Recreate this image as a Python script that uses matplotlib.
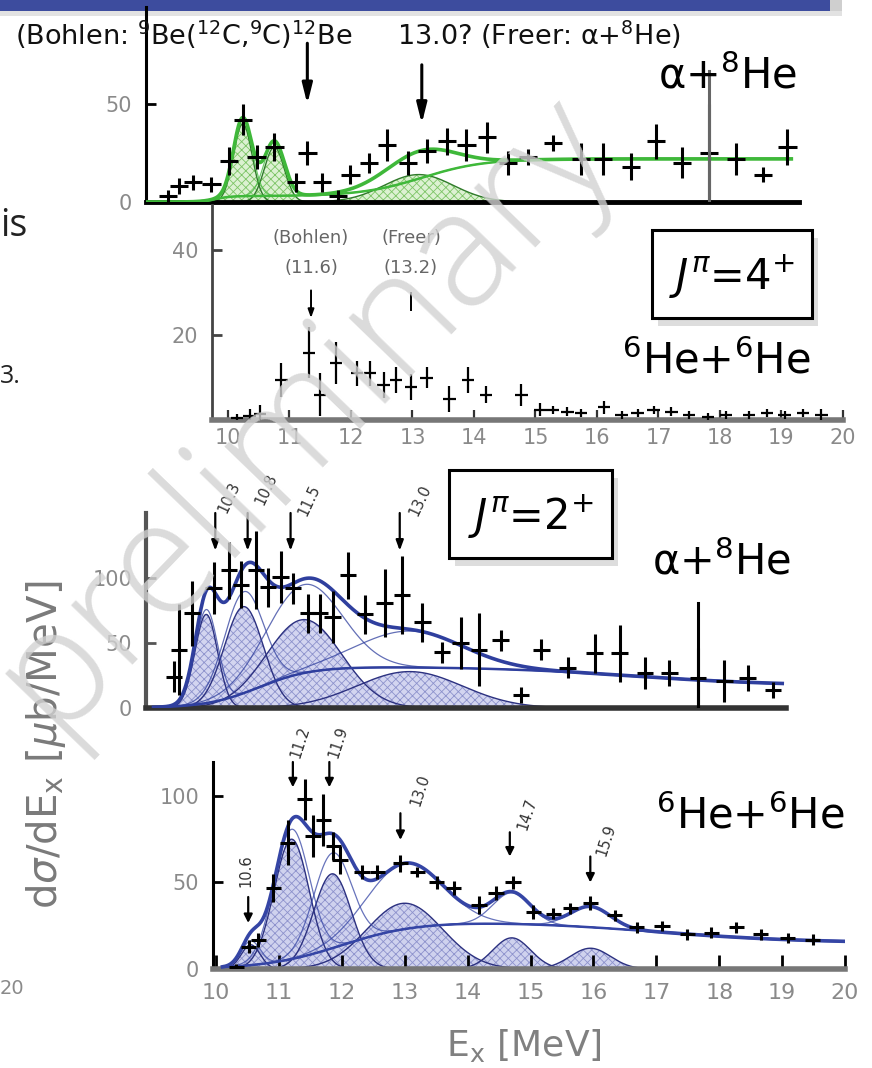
import numpy as np
import matplotlib
matplotlib.use("Agg")
import matplotlib.pyplot as plt
from matplotlib.patches import Rectangle

plt.rcParams['font.family'] = ['DejaVu Sans']
plt.rcParams['mathtext.fontset'] = 'dejavusans'
plt.rcParams['hatch.linewidth'] = 0.6

W, H = 872, 1068

# ---- panel 1: alpha+8He (green), Bohlen / Freer comparison
p1_E = [9.79, 9.93, 10.11, 10.35, 10.58, 10.76, 10.94, 11.17, 11.45, 11.60, 11.79, 12.00,
        12.16, 12.40, 12.64, 12.91, 13.16, 13.42, 13.67, 13.94, 14.21, 14.47, 14.80, 15.16,
        15.45, 15.81, 16.14, 16.48, 16.83, 17.18, 17.53, 17.85]
p1_y = [3, 8, 10, 9, 21, 42, 23, 28, 10, 25, 10, 3,
        14, 20, 29, 20, 26, 31, 29, 33, 20, 23, 30, 22,
        22, 18, 31, 20, 25, 22, 14, 28]
p1_err = [3, 4, 4, 4, 7, 8, 6, 7, 5, 6, 5, 3,
          5, 5, 8, 6, 6, 7, 8, 8, 6, 4, 4, 8,
          8, 7, 9, 8, 25, 8, 4, 9]
p1_cent = [10.76, 11.17, 13.05]
p1_height = [40, 28, 14]
p1_width = [0.12, 0.13, 0.45]

# ---- panel 2: J=4+, 6He+6He
p2_E = [10.15, 10.35, 10.52, 10.87, 11.32, 11.50, 11.76, 12.10, 12.31, 12.53, 12.73, 12.98,
        13.23, 13.60, 13.90, 14.19, 14.77, 15.08, 15.29, 15.52, 15.74, 16.11, 16.40, 16.66,
        16.92, 17.21, 17.50, 17.81, 18.10, 18.47, 18.76, 19.05, 19.35, 19.65]
p2_y = [0.5, 1, 1.5, 9.4, 15.8, 6, 13.4, 11, 11, 8.2, 9.4, 7.8,
        10, 5, 9.4, 5.9, 5.9, 2.4, 2.4, 2, 1.6, 3, 1.2, 1.6,
        2.4, 2, 1.2, 0.7, 1.2, 1.2, 1.6, 1.2, 1.6, 1.2]
p2_err = [1, 1.5, 2, 4, 6, 5, 5, 3, 3, 3, 3, 3,
          2.5, 3, 3, 2, 2.5, 1.5, 1, 1, 1, 1.5, 1, 1,
          1, 1, 1, 1, 1, 1, 1, 1, 1, 1.5]

# ---- panel 3: J=2+, alpha+8He (blue)
p3_E = [9.87, 9.94, 10.11, 10.40, 10.60, 10.76, 10.96, 11.12, 11.29, 11.45, 11.65, 11.81,
        11.98, 12.18, 12.41, 12.67, 12.90, 13.17, 13.43, 13.68, 13.92, 14.21, 14.48, 14.75,
        15.10, 15.46, 15.79, 16.13, 16.45, 16.83, 17.18, 17.49, 17.83]
p3_y = [24, 45, 73, 92, 106, 95, 106, 93, 101, 92, 73, 73,
        70, 102, 72, 81, 87, 66, 43, 50, 45, 52, 10, 45,
        31, 42, 42, 27, 27, 23, 21, 23, 14]
p3_err = [12, 35, 25, 20, 22, 18, 30, 15, 20, 12, 15, 15,
          20, 18, 15, 26, 30, 15, 8, 20, 28, 8, 6, 8,
          8, 15, 22, 12, 10, 23, 16, 10, 6]
p3_cent = [10.3, 10.8, 11.6, 13.0]
p3_height = [72, 78, 68, 28]
p3_width = [0.15, 0.26, 0.5, 0.7]

# ---- panel 4: J=2+, 6He+6He (blue)
p4_E = [10.32, 10.52, 10.67, 10.91, 11.14, 11.41, 11.54, 11.70, 11.86, 11.97, 12.32, 12.56,
        12.93, 13.20, 13.51, 13.78, 14.18, 14.45, 14.72, 15.04, 15.36, 15.63, 15.95, 16.34,
        16.69, 17.09, 17.49, 17.87, 18.27, 18.66, 19.09, 19.49]
p4_y = [1, 13, 17, 47, 73, 98, 77, 86, 71, 63, 56, 56,
        61, 56, 50, 47, 37, 44, 50, 33, 32, 35, 38, 31,
        24, 25, 20, 21, 24, 20, 18, 17]
p4_err = [2, 4, 4, 8, 13, 12, 12, 15, 8, 8, 4, 4,
          5, 3, 4, 4, 5, 4, 4, 4, 3, 3, 4, 3,
          3, 3, 3, 3, 3, 3, 3, 3]
p4_cent = [10.55, 11.2, 11.85, 13.0, 14.7, 15.95]
p4_height = [14, 75, 55, 38, 18, 12]
p4_width = [0.15, 0.28, 0.3, 0.6, 0.3, 0.32]

p4_ticks = [10, 11, 12, 13, 14, 15, 16, 17, 18, 19, 20]


def gauss(E, c, h, s):
    return h * np.exp(-0.5 * ((E - c) / s) ** 2)


def sig(x):
    return 1.0 / (1.0 + np.exp(-x))


def px_axes(fig, left, top, right, bottom):
    return fig.add_axes([left / W, 1 - bottom / H, (right - left) / W, (bottom - top) / H])


def ftext(fig, x, y, s, **kw):
    return fig.text(x / W, 1 - y / H, s, **kw)


def style_axes(ax, lcol, bcol, lw_left, lw_bot):
    for s in ['top', 'right']:
        ax.spines[s].set_visible(False)
    ax.spines['left'].set_color(lcol)
    ax.spines['left'].set_linewidth(lw_left)
    ax.spines['bottom'].set_color(bcol)
    ax.spines['bottom'].set_linewidth(lw_bot)
    ax.tick_params(axis='y', direction='in', length=7, width=2, color=lcol,
                   labelsize=15, labelcolor='#8a8a8a', pad=10)
    ax.patch.set_alpha(0)


def draw_points(ax, E, y, err, xerr, lw=2.2, col='black'):
    ax.errorbar(E, y, yerr=err, xerr=xerr, fmt='none', ecolor=col,
                elinewidth=lw, capsize=0, zorder=5)


def draw_fit(ax, E, cents, heights, widths, bg, fill, hatchc, edgec, line, total_lw=2.6):
    comps = [gauss(E, c, h, s) for c, h, s in zip(cents, heights, widths)]
    for g in comps:
        ax.fill_between(E, 0, g, facecolor=fill, edgecolor=hatchc, hatch='xxxx',
                        linewidth=0, zorder=1)
        ax.plot(E, g, color=edgec, lw=1.0, zorder=2)
        ax.plot(E, g + bg, color=line, lw=0.9, alpha=0.75, zorder=3)
    ax.plot(E, bg, color=line, lw=1.8, zorder=3)
    total = bg + np.sum(comps, axis=0)
    ax.plot(E, total, color=line, lw=total_lw, zorder=4)


def arrow(ax, x, y0, y1, lw=1.6, hw=0.25, hl=0.5):
    ax.annotate('', xy=(x, y1), xytext=(x, y0),
                arrowprops=dict(arrowstyle='-|>,head_width=%g,head_length=%g' % (hw, hl),
                                color='black', lw=lw, shrinkA=0, shrinkB=0),
                annotation_clip=False, zorder=6)


def label_box(fig, x0, y0, x1, y1, s):
    ax = fig.add_axes([0, 0, 1, 1], zorder=7)
    ax.set_xlim(0, W)
    ax.set_ylim(H, 0)
    ax.axis('off')
    ax.add_patch(Rectangle((x0 + 6, y0 + 8), x1 - x0, y1 - y0, color='#bdbdbd', alpha=0.5, lw=0))
    ax.add_patch(Rectangle((x0, y0), x1 - x0, y1 - y0, facecolor='white',
                           edgecolor='black', lw=2.2))
    ax.text((x0 + x1) / 2, (y0 + y1) / 2 + 2, s, ha='center', va='center', fontsize=30)


fig = plt.figure(figsize=(W / 100, H / 100), dpi=100)

# slide header bar
bar = fig.add_axes([0, 0, 1, 1], zorder=0)
bar.set_xlim(0, W)
bar.set_ylim(H, 0)
bar.axis('off')
bar.add_patch(Rectangle((0, 0), 830, 11, color='#3d4c9e', lw=0))
bar.add_patch(Rectangle((830, 0), 12, 14, color='#cfcfcf', lw=0))
bar.add_patch(Rectangle((0, 11), 842, 5, color='#e2e2e2', lw=0))

# left-edge slide text fragments
ftext(fig, 0, 226, 'is', fontsize=27, color='#222222', va='center', family=['Open Sans', 'DejaVu Sans'])
ftext(fig, 0, 377, '3.', fontsize=18, color='#222222', va='center', family=['Open Sans', 'DejaVu Sans'])
ftext(fig, 0, 988, '20', fontsize=14, color='#8a8a8a', va='center')

# ---------------- panel 1 ----------------
ax1 = px_axes(fig, 146, 7, 799, 202)
style_axes(ax1, 'black', 'black', 2.2, 3.5)
ax1.set_xlim(9.5, 18.0)
ax1.set_ylim(0, 99.5)
ax1.set_xticks([])
ax1.set_yticks([0, 50])
E1 = np.linspace(9.5, 17.9, 600)
bg1 = 3 * sig((E1 - 10.4) / 0.1) + 19 * sig((E1 - 13.1) / 0.4)
draw_fit(ax1, E1, p1_cent, p1_height, p1_width, bg1, '#dcf1d2', '#7cc466', '#2f7a2a', '#3fb83a')
draw_points(ax1, p1_E, p1_y, p1_err, 0.12)
ax1.plot([16.83, 16.83], [0, 67], color='#666666', lw=2.2, zorder=5)
arrow(ax1, 11.6, 81, 50, lw=2.2, hw=0.3, hl=1.2)
arrow(ax1, 13.09, 70, 40, lw=2.2, hw=0.3, hl=1.2)
ftext(fig, 15, 35, r'(Bohlen: $^{9}$Be($^{12}$C,$^{9}$C)$^{12}$Be', fontsize=19.5, va='center', color='#111111')
ftext(fig, 397, 35, r'13.0? (Freer: α+$^{8}$He)', fontsize=19.5, va='center', color='#111111')
ftext(fig, 728, 76, r'α+$^{8}$He', fontsize=30, ha='center', va='center')

# ---------------- panel 2 ----------------
ax2 = px_axes(fig, 212, 205, 843, 420)
style_axes(ax2, '#444444', '#777777', 2.0, 4)
ax2.set_xlim(9.74, 19.92)
ax2.set_ylim(0, 50.6)
ax2.set_yticks([20, 40])
ax2.set_xticks(p4_ticks)
ax2.tick_params(axis='x', direction='in', length=7, width=1.6, color='#333333',
                labelsize=15, labelcolor='#8a8a8a', pad=6)
draw_points(ax2, p2_E, p2_y, p2_err, 0.1, lw=1.6)
arrow(ax2, 11.35, 30.5, 24, lw=1.4, hw=0.18, hl=0.5)
ax2.plot([12.97, 12.97], [30, 26], color='black', lw=1.4, clip_on=False)
for tx, ty, s in [(311, 238, '(Bohlen)'), (311, 268, '(11.6)'), (411, 238, '(Freer)'), (411, 268, '(13.2)')]:
    ftext(fig, tx, ty, s, fontsize=13, ha='center', va='center', color='#666666')
label_box(fig, 652, 230, 812, 318, r'$J^{\pi}$=4$^{+}$')
ftext(fig, 716, 361, r'$^{6}$He+$^{6}$He', fontsize=30, ha='center', va='center')

# ---------------- panel 3 ----------------
ax3 = px_axes(fig, 146, 513, 786, 708)
style_axes(ax3, '#555555', '#333333', 3, 4)
ax3.set_xlim(9.5, 18.0)
ax3.set_ylim(0, 150)
ax3.set_xticks([])
ax3.set_yticks([0, 50, 100])
E3 = np.linspace(9.6, 17.95, 600)
bg3 = 32 * sig((E3 - 11.0) / 0.35) - 15 * sig((E3 - 16.0) / 1.0)
draw_fit(ax3, E3, p3_cent, p3_height, p3_width, bg3, '#d3d5f0', '#8d92cc', '#2c3180', '#2f3f9e')
draw_points(ax3, p3_E, p3_y, p3_err, 0.11)
ax3.plot([16.83, 16.83], [0, 81], color='black', lw=2.2, zorder=5)
for E, lab, lx, ly in [(10.42, '10.3', 229, 497), (10.85, '10.8', 266, 489),
                       (11.42, '11.5', 309, 500), (12.87, '13.0', 420, 500)]:
    arrow(ax3, E, 150, 121, lw=1.6, hw=0.22, hl=0.6)
    ftext(fig, lx, ly, lab, fontsize=10.5, rotation=65, ha='center', va='center', color='#333333')
label_box(fig, 449, 470, 612, 558, r'$J^{\pi}$=2$^{+}$')
ftext(fig, 722, 562, r'α+$^{8}$He', fontsize=30, ha='center', va='center')

# ---------------- panel 4 ----------------
ax4 = px_axes(fig, 213, 762, 845, 969)
style_axes(ax4, 'black', '#777777', 2.2, 4)
ax4.set_xlim(9.95, 20.0)
ax4.set_ylim(0, 119.6)
ax4.set_yticks([0, 50, 100])
ax4.set_xticks(p4_ticks)
ax4.tick_params(axis='x', direction='in', length=10, width=2, color='black',
                labelsize=16, labelcolor='#8a8a8a', pad=10)
E4 = np.linspace(10.1, 20.0, 700)
bg4 = 28 * sig((E4 - 12.0) / 0.6) - 13 * sig((E4 - 17.0) / 1.2)
draw_fit(ax4, E4, p4_cent, p4_height, p4_width, bg4, '#cfd2ee', '#8d92cc', '#2c3180', '#3545a5')
draw_points(ax4, p4_E, p4_y, p4_err, 0.12)
arrow(ax4, 10.51, 41.6, 26.6)
ftext(fig, 246, 871, '10.6', fontsize=10.5, rotation=90, ha='center', va='center', color='#333333')
for E, lab, lx, ly, top, bot in [(11.22, '11.2', 300, 742, 119.6, 105),
                                 (11.80, '11.9', 338, 742, 119.6, 105),
                                 (12.93, '13.0', 420, 790, 90, 74.6),
                                 (14.67, '14.7', 527, 814, 79, 65),
                                 (15.95, '15.9', 606, 840, 65, 50)]:
    arrow(ax4, E, top, bot)
    ftext(fig, lx, ly, lab, fontsize=10.5, rotation=72, ha='center', va='center', color='#333333')
ftext(fig, 750, 816, r'$^{6}$He+$^{6}$He', fontsize=30, ha='center', va='center')
ftext(fig, 524, 1045, r'E$_{\rm x}$ [MeV]', fontsize=26, ha='center', va='center', color='#808080')
ftext(fig, 46, 745, r'd$\sigma$/dE$_{\rm x}$ [$\mu$b/MeV]', fontsize=29, rotation=90,
      ha='center', va='center', color='#7a7a7a')

# watermark
ftext(fig, 305, 412, 'preliminary', fontsize=116, rotation=46, ha='center', va='center',
      color='#d2d2d2', alpha=0.8, fontweight='light', zorder=20, family=['Open Sans', 'DejaVu Sans'])

fig.savefig('out.png', dpi=100)
